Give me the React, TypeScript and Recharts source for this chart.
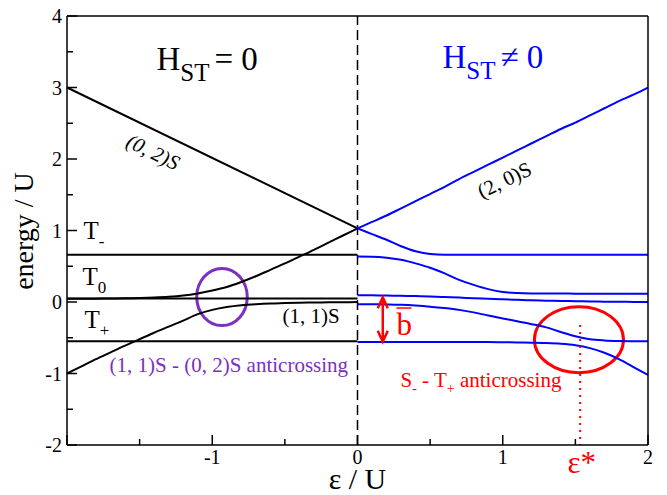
import {
  LineChart, Line, XAxis, YAxis, ReferenceLine, ReferenceDot, ReferenceArea,
} from 'recharts';

// energy levels vs detuning
const leftX = [-2, -1.9, -1.8, -1.7, -1.6, -1.5, -1.4, -1.3, -1.2, -1.1, -1, -0.9, -0.8, -0.7, -0.6, -0.5, -0.4, -0.3, -0.2, -0.1, 0];
const rightX = [0, 0.1, 0.2, 0.3, 0.4, 0.5, 0.6, 0.7, 0.8, 0.9, 1, 1.1, 1.2, 1.3, 1.4, 1.5, 1.6, 1.7, 1.8, 1.9, 2];

// H_ST = 0 (black)
const s02Ends = [3, 1.03];
const s02X = [-2, 0];
const upperLeft = [0.045, 0.046, 0.047, 0.049, 0.052, 0.056, 0.062, 0.072, 0.09, 0.12, 0.16, 0.21, 0.28, 0.36, 0.45, 0.54, 0.635, 0.73, 0.83, 0.93, 1.03];
const lowerLeft = [-1, -0.9, -0.8, -0.705, -0.61, -0.52, -0.43, -0.345, -0.26, -0.17, -0.11, -0.07, -0.045, -0.03, -0.02, -0.015, -0.01, -0.007, -0.005, -0.003, 0];
const tMinus = 0.66;
const tZero = 0.05;
const tPlus = -0.55;

// H_ST != 0 (blue)
const s20 = [1.03, 1.12, 1.21, 1.31, 1.41, 1.51, 1.61, 1.72, 1.82, 1.92, 2.02, 2.12, 2.22, 2.32, 2.42, 2.51, 2.61, 2.71, 2.81, 2.9, 3];
const blue2 = [1.03, 0.95, 0.87, 0.78, 0.71, 0.67, 0.66, 0.66, 0.66, 0.66, 0.66, 0.66, 0.66, 0.66, 0.66, 0.66, 0.66, 0.66, 0.66, 0.66, 0.66];
const blue3 = [0.635, 0.633, 0.62, 0.59, 0.54, 0.48, 0.4, 0.31, 0.24, 0.18, 0.14, 0.125, 0.12, 0.119, 0.118, 0.117, 0.117, 0.116, 0.116, 0.115, 0.115];
const blue4 = [0.095, 0.093, 0.09, 0.087, 0.083, 0.078, 0.07, 0.062, 0.053, 0.045, 0.037, 0.03, 0.024, 0.019, 0.015, 0.011, 0.008, 0.005, 0.003, 0.001, 0];
const blue5 = [-0.03, -0.032, -0.035, -0.04, -0.05, -0.065, -0.085, -0.11, -0.145, -0.19, -0.23, -0.27, -0.31, -0.355, -0.42, -0.48, -0.52, -0.537, -0.545, -0.548, -0.55];
const blue6 = [-0.56, -0.56, -0.56, -0.56, -0.56, -0.56, -0.56, -0.56, -0.56, -0.56, -0.563, -0.566, -0.57, -0.575, -0.585, -0.605, -0.645, -0.71, -0.8, -0.91, -1.02];

const xTicks = [-2, -1.5, -1, -0.5, 0, 0.5, 1, 1.5, 2];
const yTicks = [-2, -1.5, -1, -0.5, 0, 0.5, 1, 1.5, 2, 2.5, 3, 3.5, 4];
const epsStar = 1.533;

const FONT = '"Liberation Serif", "Times New Roman", serif';
const PURPLE = '#7b30c0';
const RED = '#ff0000';
const BLUE = '#0000ff';

const pts = (xs: number[], ys: number[]) => xs.map((x, i) => ({ x, y: ys[i] }));
const flat = (x0: number, x1: number, y: number) => [{ x: x0, y }, { x: x1, y }];

const AxisTick = (side: 'bottom' | 'left' | 'top' | 'right') => (props: any) => {
  const { x, y, payload } = props;
  const v = payload.value as number;
  const major = Math.abs(v - Math.round(v)) < 1e-9;
  const len = major ? 10 : 6;
  const st = { stroke: '#000', strokeWidth: 1.5 };
  if (side === 'bottom') {
    return (
      <g>
        <line x1={x} y1={y} x2={x} y2={y - len} {...st} />
        {major && v !== -2 && (
          <text x={x} y={y + 19} textAnchor="middle" fontSize={20} fontFamily={FONT} fill="#000">{v}</text>
        )}
      </g>
    );
  }
  if (side === 'left') {
    return (
      <g>
        <line x1={x} y1={y} x2={x + len} y2={y} {...st} />
        {major && (
          <text x={x - 5} y={y + 7} textAnchor="end" fontSize={20} fontFamily={FONT} fill="#000">{v}</text>
        )}
      </g>
    );
  }
  if (side === 'top') return <line x1={x} y1={y} x2={x} y2={y + len} {...st} />;
  return <line x1={x} y1={y} x2={x - len} y2={y} {...st} />;
};

const note = (key: string, x: number, y: number, draw: (cx: number, cy: number) => any) => (
  <ReferenceDot key={key} x={x} y={y} r={0} ifOverflow="visible" shape={(p: any) => <g>{draw(p.cx, p.cy)}</g>} />
);

const ellipse = (color: string) => (p: any) => (
  <ellipse
    cx={p.x + p.width / 2} cy={p.y + p.height / 2}
    rx={Math.abs(p.width) / 2} ry={Math.abs(p.height) / 2}
    fill="none" stroke={color} strokeWidth={3}
  />
);

const doubleArrow = (p: any) => {
  const top = Math.min(p.y1, p.y2);
  const bot = Math.max(p.y1, p.y2);
  const x = p.x1;
  return (
    <g stroke={RED} strokeWidth={2.5} fill="none">
      <line x1={x} y1={top} x2={x} y2={bot} />
      <polyline points={`${x - 5},${top + 11} ${x},${top} ${x + 5},${top + 11}`} />
      <polyline points={`${x - 5},${bot - 11} ${x},${bot} ${x + 5},${bot - 11}`} />
    </g>
  );
};

const axisLine = { stroke: '#000', strokeWidth: 1.5 };

export default function App() {
  const lineProps = { dot: false, isAnimationActive: false, strokeWidth: 2, type: 'monotone' as const, dataKey: 'y' };
  return (
    <div style={{ fontFamily: FONT }}>
      <style>{'body{margin:0}'}</style>
      <LineChart width={667} height={495} margin={{ top: 15, right: 18, bottom: 49, left: 66 }}>
        <XAxis
          dataKey="x" type="number" domain={[-2, 2]} ticks={xTicks} interval={0}
          height={1} tickSize={0} tickMargin={0} tickLine={false}
          axisLine={axisLine} tick={AxisTick('bottom')}
        />
        <XAxis
          xAxisId="top" orientation="top" dataKey="x" type="number" domain={[-2, 2]} ticks={xTicks} interval={0}
          height={1} tickSize={0} tickMargin={0} tickLine={false}
          axisLine={axisLine} tick={AxisTick('top')}
        />
        <YAxis
          type="number" domain={[-2, 4]} ticks={yTicks} interval={0}
          width={1} tickSize={0} tickMargin={0} tickLine={false}
          axisLine={axisLine} tick={AxisTick('left')}
        />
        <YAxis
          yAxisId="right" orientation="right" type="number" domain={[-2, 4]} ticks={yTicks} interval={0}
          width={1} tickSize={0} tickMargin={0} tickLine={false}
          axisLine={axisLine} tick={AxisTick('right')}
        />

        <ReferenceLine x={0} stroke="#000" strokeWidth={1.5} strokeDasharray="10 5" />

        {/* H_ST = 0 */}
        <Line {...lineProps} data={pts(s02X, s02Ends)} stroke="#000" type="linear" />
        <Line {...lineProps} data={pts(leftX, upperLeft)} stroke="#000" />
        <Line {...lineProps} data={pts(leftX, lowerLeft)} stroke="#000" />
        <Line {...lineProps} data={flat(-2, 0, tMinus)} stroke="#000" type="linear" />
        <Line {...lineProps} data={flat(-2, 0, tZero)} stroke="#000" type="linear" />
        <Line {...lineProps} data={flat(-2, 0, tPlus)} stroke="#000" type="linear" />

        {/* H_ST != 0 */}
        <Line {...lineProps} data={pts(rightX, s20)} stroke={BLUE} />
        <Line {...lineProps} data={pts(rightX, blue2)} stroke={BLUE} />
        <Line {...lineProps} data={pts(rightX, blue3)} stroke={BLUE} />
        <Line {...lineProps} data={pts(rightX, blue4)} stroke={BLUE} />
        <Line {...lineProps} data={pts(rightX, blue5)} stroke={BLUE} />
        <Line {...lineProps} data={pts(rightX, blue6)} stroke={BLUE} />

        <ReferenceArea x1={-1.107} x2={-0.759} y1={-0.33} y2={0.47} shape={ellipse(PURPLE)} />
        <ReferenceArea x1={1.218} x2={1.831} y1={-0.989} y2={-0.066} shape={ellipse(RED)} />
        <ReferenceLine segment={[{ x: 0.174, y: 0.066 }, { x: 0.174, y: -0.555 }]} shape={doubleArrow} />
        <ReferenceLine
          segment={[{ x: epsStar, y: -0.32 }, { x: epsStar, y: -2 }]}
          stroke={RED} strokeWidth={2} strokeDasharray="2 5"
        />

        {note('hst0', -1.384, 3.245, (cx, cy) => (
          <text x={cx} y={cy} fontFamily={FONT} fontSize={33} fill="#000">
            H<tspan fontSize={25} dy={11}>ST</tspan><tspan dy={-11} dx={5}>= 0</tspan>
          </text>
        ))}
        {note('hst1', 0.585, 3.273, (cx, cy) => (
          <text x={cx} y={cy} fontFamily={FONT} fontSize={33} fill={BLUE}>
            H<tspan fontSize={25} dy={11}>ST</tspan><tspan dy={-11} dx={5}>≠ 0</tspan>
          </text>
        ))}
        {note('s02', -1.408, 2.098, (cx, cy) => (
          <text x={cx} y={cy} fontFamily={FONT} fontSize={21} fontStyle="italic" fill="#000"
            textAnchor="middle" dominantBaseline="central" transform={`rotate(26 ${cx} ${cy})`}>(0, 2)S</text>
        ))}
        {note('s20', 1.012, 1.706, (cx, cy) => (
          <text x={cx} y={cy} fontFamily={FONT} fontSize={21} fill="#000"
            textAnchor="middle" dominantBaseline="central" transform={`rotate(-26 ${cx} ${cy})`}>(2, 0)S</text>
        ))}
        {note('tm', -1.886, 0.881, (cx, cy) => (
          <text x={cx} y={cy} fontFamily={FONT} fontSize={25} fill="#000">
            T<tspan fontSize={17} dy={8}>-</tspan>
          </text>
        ))}
        {note('t0', -1.893, 0.238, (cx, cy) => (
          <text x={cx} y={cy} fontFamily={FONT} fontSize={25} fill="#000">
            T<tspan fontSize={17} dy={8}>0</tspan>
          </text>
        ))}
        {note('tp', -1.879, -0.364, (cx, cy) => (
          <text x={cx} y={cy} fontFamily={FONT} fontSize={25} fill="#000">
            T<tspan fontSize={17} dy={8}>+</tspan>
          </text>
        ))}
        {note('s11', -0.516, -0.294, (cx, cy) => (
          <text x={cx} y={cy} fontFamily={FONT} fontSize={21} fill="#000">(1, 1)S</text>
        ))}
        {note('ac1', -1.707, -0.979, (cx, cy) => (
          <text x={cx} y={cy} fontFamily={FONT} fontSize={21} fill={PURPLE}>(1, 1)S - (0, 2)S anticrossing</text>
        ))}
        {note('ac2', 0.296, -1.189, (cx, cy) => (
          <text x={cx} y={cy} fontFamily={FONT} fontSize={21} fill={RED}>
            S<tspan fontSize={14} dy={6}>-</tspan><tspan dy={-6}> - T</tspan><tspan fontSize={14} dy={6}>+</tspan><tspan dy={-6}> anticrossing</tspan>
          </text>
        ))}
        {note('bbar', 0.268, -0.462, (cx, cy) => (
          <g>
            <text x={cx} y={cy} fontFamily={FONT} fontSize={31} fill={RED}>b</text>
            <line x1={cx} y1={cy - 27} x2={cx + 15} y2={cy - 27} stroke={RED} strokeWidth={1.5} />
          </g>
        ))}
        {note('eps', epsStar - 0.088, -2.392, (cx, cy) => (
          <text x={cx} y={cy} fontFamily={FONT} fontSize={31} fill={RED}>ε*</text>
        ))}
        {note('xlab', 0, -2.617, (cx, cy) => (
          <text x={cx} y={cy} fontFamily={FONT} fontSize={30} fill="#000" textAnchor="middle">ε / U</text>
        ))}
        {note('ylab', -2.237, 0.993, (cx, cy) => (
          <text x={cx} y={cy} fontFamily={FONT} fontSize={28} fill="#000" textAnchor="middle"
            transform={`rotate(-90 ${cx} ${cy})`}>energy / U</text>
        ))}
      </LineChart>
    </div>
  );
}
